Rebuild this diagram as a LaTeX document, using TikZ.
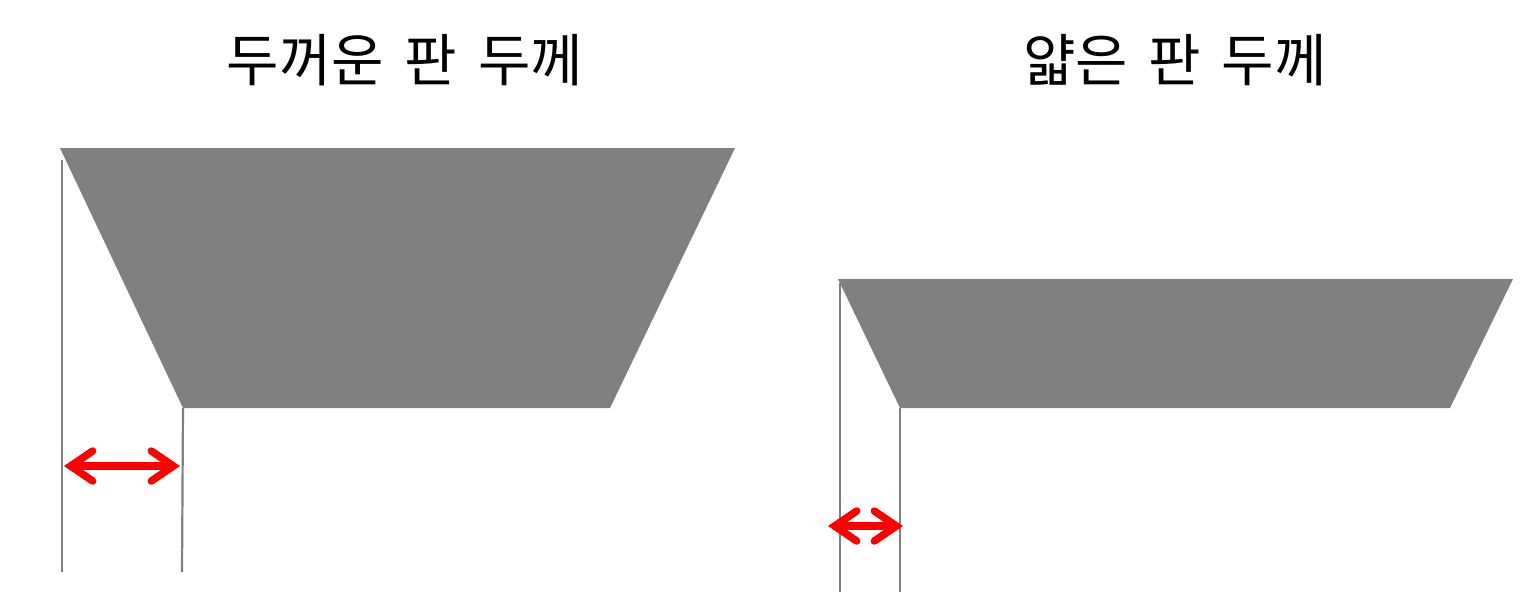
\documentclass[tikz,border=0pt]{standalone}
\usepackage{fontspec}
\newfontfamily\kor{Noto Sans CJK KR}
\usetikzlibrary{arrows.meta,positioning}

\begin{document}
\begin{tikzpicture}[x=1pt,y=-1pt]
        \tikzstyle{plate}
	  =[fill=black!50, draw=none]
        \tikzstyle{guide}
	  =[draw=black!50, line width=2.2pt]
        \tikzstyle{gap}
	  =[draw=red, line width=7.5pt, line cap=round,
	  {Straight Barb[length=22pt,width=30pt,line cap=round]}-{Straight Barb[length=22pt,width=30pt,line cap=round]}]
        \tikzstyle{title}
	  =[font=\kor\fontsize{57}{64}\selectfont, inner sep=0pt]

	\useasboundingbox (0,0) rectangle (1536,606);

	% thick plate
	\node[title] (thick) at (405,60) {두꺼운\hspace{8pt} 판\hspace{8pt} 두께};
	\coordinate (T1) at (60,148);
	\coordinate (T2) at (735,148);
	\coordinate (T3) at (610,408);
	\coordinate (T4) at (183,408);
	\fill[plate] (T1)--(T2)--(T3)--(T4)--cycle;
	\coordinate (TLtop) at (62,160);
	\coordinate (TLbot) at (62,572);
	\coordinate (TRbot) at (182,572);
	\draw[guide] (TLtop)--(TLbot);
	\draw[guide] (T4)--(TRbot);
	\coordinate (TA1) at (64,466);
	\coordinate (TA2) at (180,466);
	\draw[gap] (TA1)--(TA2);

	% thin plate
	\node[title] (thin) at (1175,60) {얇은\hspace{8pt} 판\hspace{8pt} 두께};
	\coordinate (S1) at (838,279);
	\coordinate (S2) at (1513,279);
	\coordinate (S3) at (1450,408);
	\coordinate (S4) at (900,408);
	\fill[plate] (S1)--(S2)--(S3)--(S4)--cycle;
	\coordinate (SLtop) at (840,283);
	\coordinate (SLbot) at (840,592);
	\coordinate (SRbot) at (900,592);
	\draw[guide] (SLtop)--(SLbot);
	\draw[guide] (S4)--(SRbot);
	\coordinate (SA1) at (828,526);
	\coordinate (SA2) at (903,526);
	\draw[gap] (SA1)--(SA2);
\end{tikzpicture}
\end{document}
